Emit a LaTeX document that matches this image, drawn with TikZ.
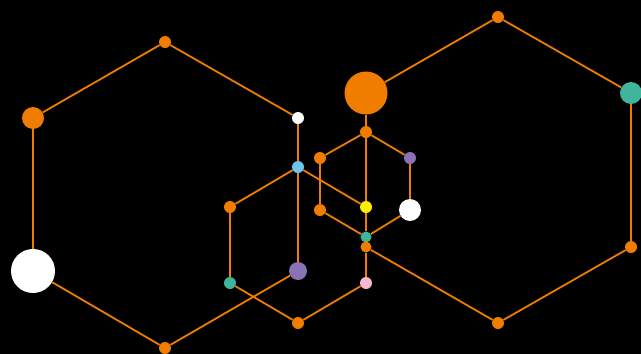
\documentclass[tikz,border=0pt]{standalone}
\usepackage{xcolor}
\usepackage{tikz}
\definecolor{hexorange}{HTML}{F07D00}
\definecolor{hexteal}{HTML}{3FB59B}
\definecolor{hexblue}{HTML}{6CC5EE}
\definecolor{hexpurple}{HTML}{8A72B4}
\definecolor{hexpink}{HTML}{F4B8D3}
\definecolor{hexyellow}{HTML}{FFED00}

\begin{document}
\begin{tikzpicture}[
  x=1pt, y=-1pt,
  dot/.style={circle, inner sep=0pt, minimum size=12pt, fill=hexorange},
  tinydot/.style={dot, minimum size=11pt},
  middot/.style={dot, minimum size=22pt},
  bigdot/.style={dot, minimum size=44pt},
  link/.style={hexorange, line width=1.8pt},
]
\fill[black] (0,0) rectangle (641,354);
\useasboundingbox (0,0) rectangle (641,354);

% left hexagon
\node[dot]                     (L1) at (165,42)  {};
\node[dot, fill=white]         (L2) at (298,118) {};
\node[dot, fill=hexpurple, minimum size=18pt] (L3) at (298,271) {};
\node[dot]                     (L4) at (165,348) {};
\node[bigdot, fill=white]      (L5) at (33,271)  {};
\node[middot]                  (L6) at (33,118)  {};

% middle hexagon
\node[dot, fill=hexblue]       (B)  at (298,167) {};
\node[dot]                     (M1) at (230,207) {};
\node[dot, fill=hexteal]       (M2) at (230,283) {};
\node[dot]                     (M3) at (298,323) {};
\node[dot, fill=hexpink]       (M4) at (366,283) {};
\node[dot, fill=hexyellow]     (Y)  at (366,207) {};

% small hexagon
\node[dot]                     (S1) at (366,132) {};
\node[dot, fill=hexpurple]     (S2) at (410,158) {};
\node[middot, fill=white]      (S3) at (410,210) {};
\node[tinydot, fill=hexteal]   (S4) at (366,237) {};
\node[dot]                     (S5) at (320,210) {};
\node[dot]                     (S6) at (320,158) {};

% right hexagon
\node[bigdot, minimum size=43pt] (R1) at (366,93) {};
\node[dot]                     (R2) at (498,17)  {};
\node[middot, fill=hexteal]    (R3) at (631,93)  {};
\node[dot]                     (R4) at (631,247) {};
\node[dot]                     (R5) at (498,323) {};
\node[tinydot]                 (R6) at (366,247) {};

\draw[link] (L1)--(L2); \draw[link] (L2)--(B); \draw[link] (B)--(L3);
\draw[link] (L3)--(L4); \draw[link] (L4)--(L5); \draw[link] (L5)--(L6);
\draw[link] (L6)--(L1);

\draw[link] (B)--(M1); \draw[link] (M1)--(M2); \draw[link] (M2)--(M3);
\draw[link] (M3)--(M4); \draw[link] (M4)--(R6); \draw[link] (B)--(Y);

\draw[link] (S1)--(S2); \draw[link] (S2)--(S3); \draw[link] (S3)--(S4);
\draw[link] (S4)--(S5); \draw[link] (S5)--(S6); \draw[link] (S6)--(S1);

\draw[link] (R1)--(S1); \draw[link] (S1)--(Y); \draw[link] (Y)--(S4);
\draw[link] (S4)--(R6);

\draw[link] (R1)--(R2); \draw[link] (R2)--(R3); \draw[link] (R3)--(R4);
\draw[link] (R4)--(R5); \draw[link] (R5)--(R6);
\end{tikzpicture}
\end{document}
